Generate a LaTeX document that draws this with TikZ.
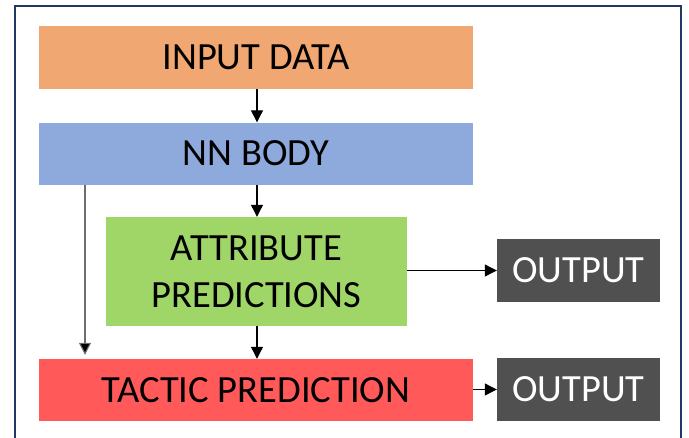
\documentclass[tikz,border=0pt]{standalone}
\usepackage{fontspec}
\setmainfont{Carlito}
\usetikzlibrary{arrows.meta}
\definecolor{cinput}{HTML}{F1A772}
\definecolor{cbody}{HTML}{8EA9DB}
\definecolor{cattr}{HTML}{A0D568}
\definecolor{ctactic}{HTML}{FF5959}
\definecolor{cout}{HTML}{505050}
\definecolor{cframe}{HTML}{1F3864}
\definecolor{carrgray}{HTML}{6E6E6E}
\tikzset{
  blockbox/.style={rectangle, inner sep=0pt, align=center, text=black,
    font=\fontsize{38.5}{47}\selectfont},
  outbox/.style={blockbox, fill=cout, text=white, minimum width=163pt, minimum height=63pt},
  arr/.style={line width=1.1pt, -{Triangle[length=12pt,width=12pt]}},
}
\begin{document}
\begin{tikzpicture}[x=1pt,y=-1pt]
\useasboundingbox (0,0) rectangle (689,437);
\draw[cframe, line width=2.5pt] (15,445) -- (15,6) -- (681,6) -- (681,445);
\node[blockbox, fill=cinput, minimum width=434pt, minimum height=63pt] (inp) at (256,57.5) {INPUT DATA};
\node[blockbox, fill=cbody, minimum width=434pt, minimum height=62pt] (nn) at (256,153.5) {NN BODY};
\node[blockbox, fill=cattr, minimum width=301pt, minimum height=109pt] (attr) at (256.5,271.5) {ATTRIBUTE\\PREDICTIONS};
\node[blockbox, fill=ctactic, minimum width=434pt, minimum height=62pt] (tac) at (256,390) {TACTIC PREDICTION};
\node[outbox] (out1) at (578.5,270.5) {OUTPUT};
\node[outbox] (out2) at (578.5,389.5) {OUTPUT};
\coordinate (lx) at (85,0);
\coordinate (mx) at (257,0);
\draw[arr] (inp.south -| mx) -- (nn.north -| mx);
\draw[arr] (nn.south -| mx) -- (attr.north -| mx);
\draw[arr] (attr.south -| mx) -- (tac.north -| mx);
\draw[arr, carrgray, -{Triangle[length=12pt,width=12pt,fill=black]}, shorten >=4pt] (nn.south -| lx) -- (tac.north -| lx);
\draw[arr] (attr.east |- out1.west) -- (out1.west);
\draw[arr] (tac.east |- out2.west) -- (out2.west);
\end{tikzpicture}
\end{document}
